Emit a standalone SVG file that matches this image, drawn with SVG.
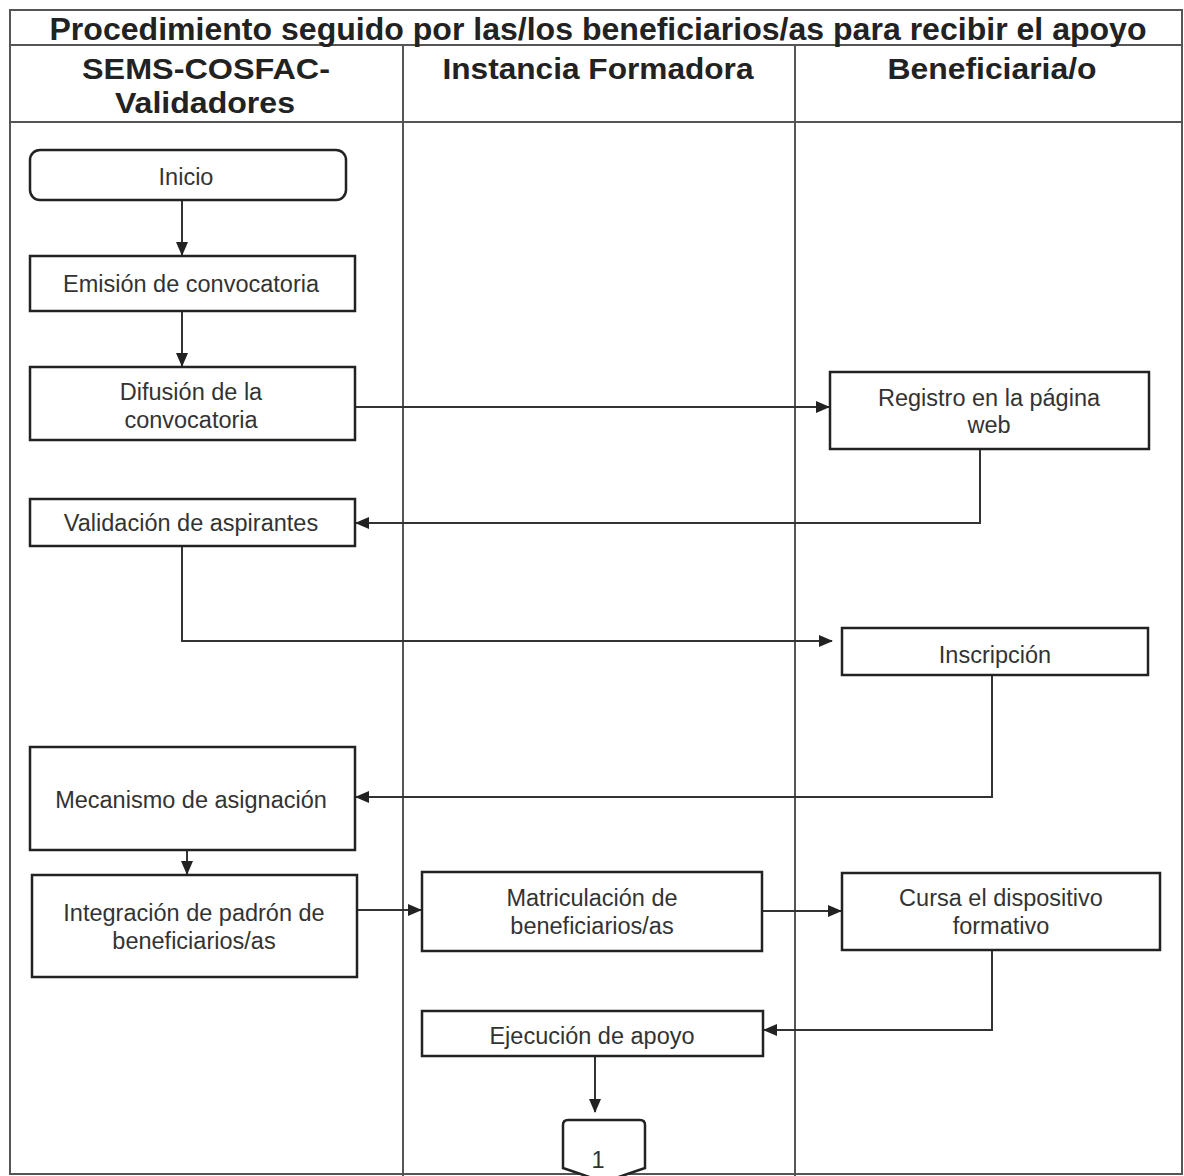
<svg xmlns="http://www.w3.org/2000/svg" width="1184" height="1176" viewBox="0 0 1184 1176">
<style>
.frame{fill:none;stroke:#555;stroke-width:2}
.box{fill:#fff;stroke:#222;stroke-width:2.5}
.hd{font-family:"Liberation Sans",Arial,sans-serif;font-weight:bold;fill:#222;text-anchor:middle}
.t{font-family:"Liberation Sans",Arial,sans-serif;font-size:23.5px;fill:#333;text-anchor:middle}
.c{fill:none;stroke:#333;stroke-width:2}
</style>
<defs>
<marker id="ar" markerWidth="14" markerHeight="12" refX="13" refY="6" orient="auto" markerUnits="userSpaceOnUse">
<path d="M0,0 L14,6 L0,12 Z" fill="#222"/>
</marker>
</defs>
<rect width="1184" height="1176" fill="#fff"/>
<g id="frame">
<rect class="frame" x="10" y="10" width="1172" height="1164"/>
<line class="frame" x1="10" y1="45" x2="1182" y2="45"/>
<line class="frame" x1="10" y1="122" x2="1182" y2="122"/>
<line class="frame" x1="403" y1="45" x2="403" y2="1176"/>
<line class="frame" x1="795" y1="45" x2="795" y2="1176"/>
<text class="hd" x="598" y="40" font-size="32" textLength="1097" lengthAdjust="spacingAndGlyphs">Procedimiento seguido por las/los beneficiarios/as para recibir el apoyo</text>
<text class="hd" x="206" y="79" font-size="30" textLength="248" lengthAdjust="spacingAndGlyphs">SEMS-COSFAC-</text>
<text class="hd" x="205" y="113" font-size="30" textLength="180" lengthAdjust="spacingAndGlyphs">Validadores</text>
<text class="hd" x="598" y="79" font-size="30" textLength="311" lengthAdjust="spacingAndGlyphs">Instancia Formadora</text>
<text class="hd" x="992" y="79" font-size="30" textLength="209" lengthAdjust="spacingAndGlyphs">Beneficiaria/o</text>
</g>
<g id="connectors">
<line class="c" x1="182" y1="200" x2="182" y2="255" marker-end="url(#ar)"/>
<line class="c" x1="182" y1="311" x2="182" y2="366" marker-end="url(#ar)"/>
<line class="c" x1="355" y1="407" x2="829" y2="407" marker-end="url(#ar)"/>
<polyline class="c" points="980,449 980,523 356,523" marker-end="url(#ar)"/>
<polyline class="c" points="182,546 182,641 832,641" marker-end="url(#ar)"/>
<polyline class="c" points="992,675 992,797 356,797" marker-end="url(#ar)"/>
<line class="c" x1="187" y1="850" x2="187" y2="874" marker-end="url(#ar)"/>
<line class="c" x1="357" y1="910" x2="421" y2="910" marker-end="url(#ar)"/>
<line class="c" x1="762" y1="911" x2="841" y2="911" marker-end="url(#ar)"/>
<polyline class="c" points="992,950 992,1030 764,1030" marker-end="url(#ar)"/>
<line class="c" x1="595" y1="1056" x2="595" y2="1112" marker-end="url(#ar)"/>
</g>
<g id="inicio"><rect class="box" x="30" y="150" width="316" height="50" rx="10"/><text class="t" x="186" y="185">Inicio</text></g>
<g id="emision"><rect class="box" x="30" y="256" width="325" height="55"/><text class="t" x="191" y="292">Emisión de convocatoria</text></g>
<g id="difusion"><rect class="box" x="30" y="367" width="325" height="73"/><text class="t" x="191" y="400">Difusión de la</text><text class="t" x="191" y="428">convocatoria</text></g>
<g id="registro"><rect class="box" x="830" y="372" width="319" height="77"/><text class="t" x="989" y="406">Registro en la página</text><text class="t" x="989" y="433">web</text></g>
<g id="validacion"><rect class="box" x="30" y="499" width="325" height="47"/><text class="t" x="191" y="531">Validación de aspirantes</text></g>
<g id="inscripcion"><rect class="box" x="842" y="628" width="306" height="47"/><text class="t" x="995" y="663">Inscripción</text></g>
<g id="mecanismo"><rect class="box" x="30" y="747" width="325" height="103"/><text class="t" x="191" y="808">Mecanismo de asignación</text></g>
<g id="integracion"><rect class="box" x="32" y="875" width="325" height="102"/><text class="t" x="194" y="921">Integración de padrón de</text><text class="t" x="194" y="949">beneficiarios/as</text></g>
<g id="matriculacion"><rect class="box" x="422" y="872" width="340" height="79"/><text class="t" x="592" y="906">Matriculación de</text><text class="t" x="592" y="934">beneficiarios/as</text></g>
<g id="cursa"><rect class="box" x="842" y="873" width="318" height="77"/><text class="t" x="1001" y="906">Cursa el dispositivo</text><text class="t" x="1001" y="934">formativo</text></g>
<g id="ejecucion"><rect class="box" x="422" y="1011" width="341" height="45"/><text class="t" x="592" y="1044">Ejecución de apoyo</text></g>
<g id="conector1"><path class="box" d="M568,1120 H640 Q645,1120 645,1125 V1168 L604,1182 L563,1168 V1125 Q563,1120 568,1120 Z"/><text class="t" x="598" y="1168" font-size="16">1</text></g>
</svg>
